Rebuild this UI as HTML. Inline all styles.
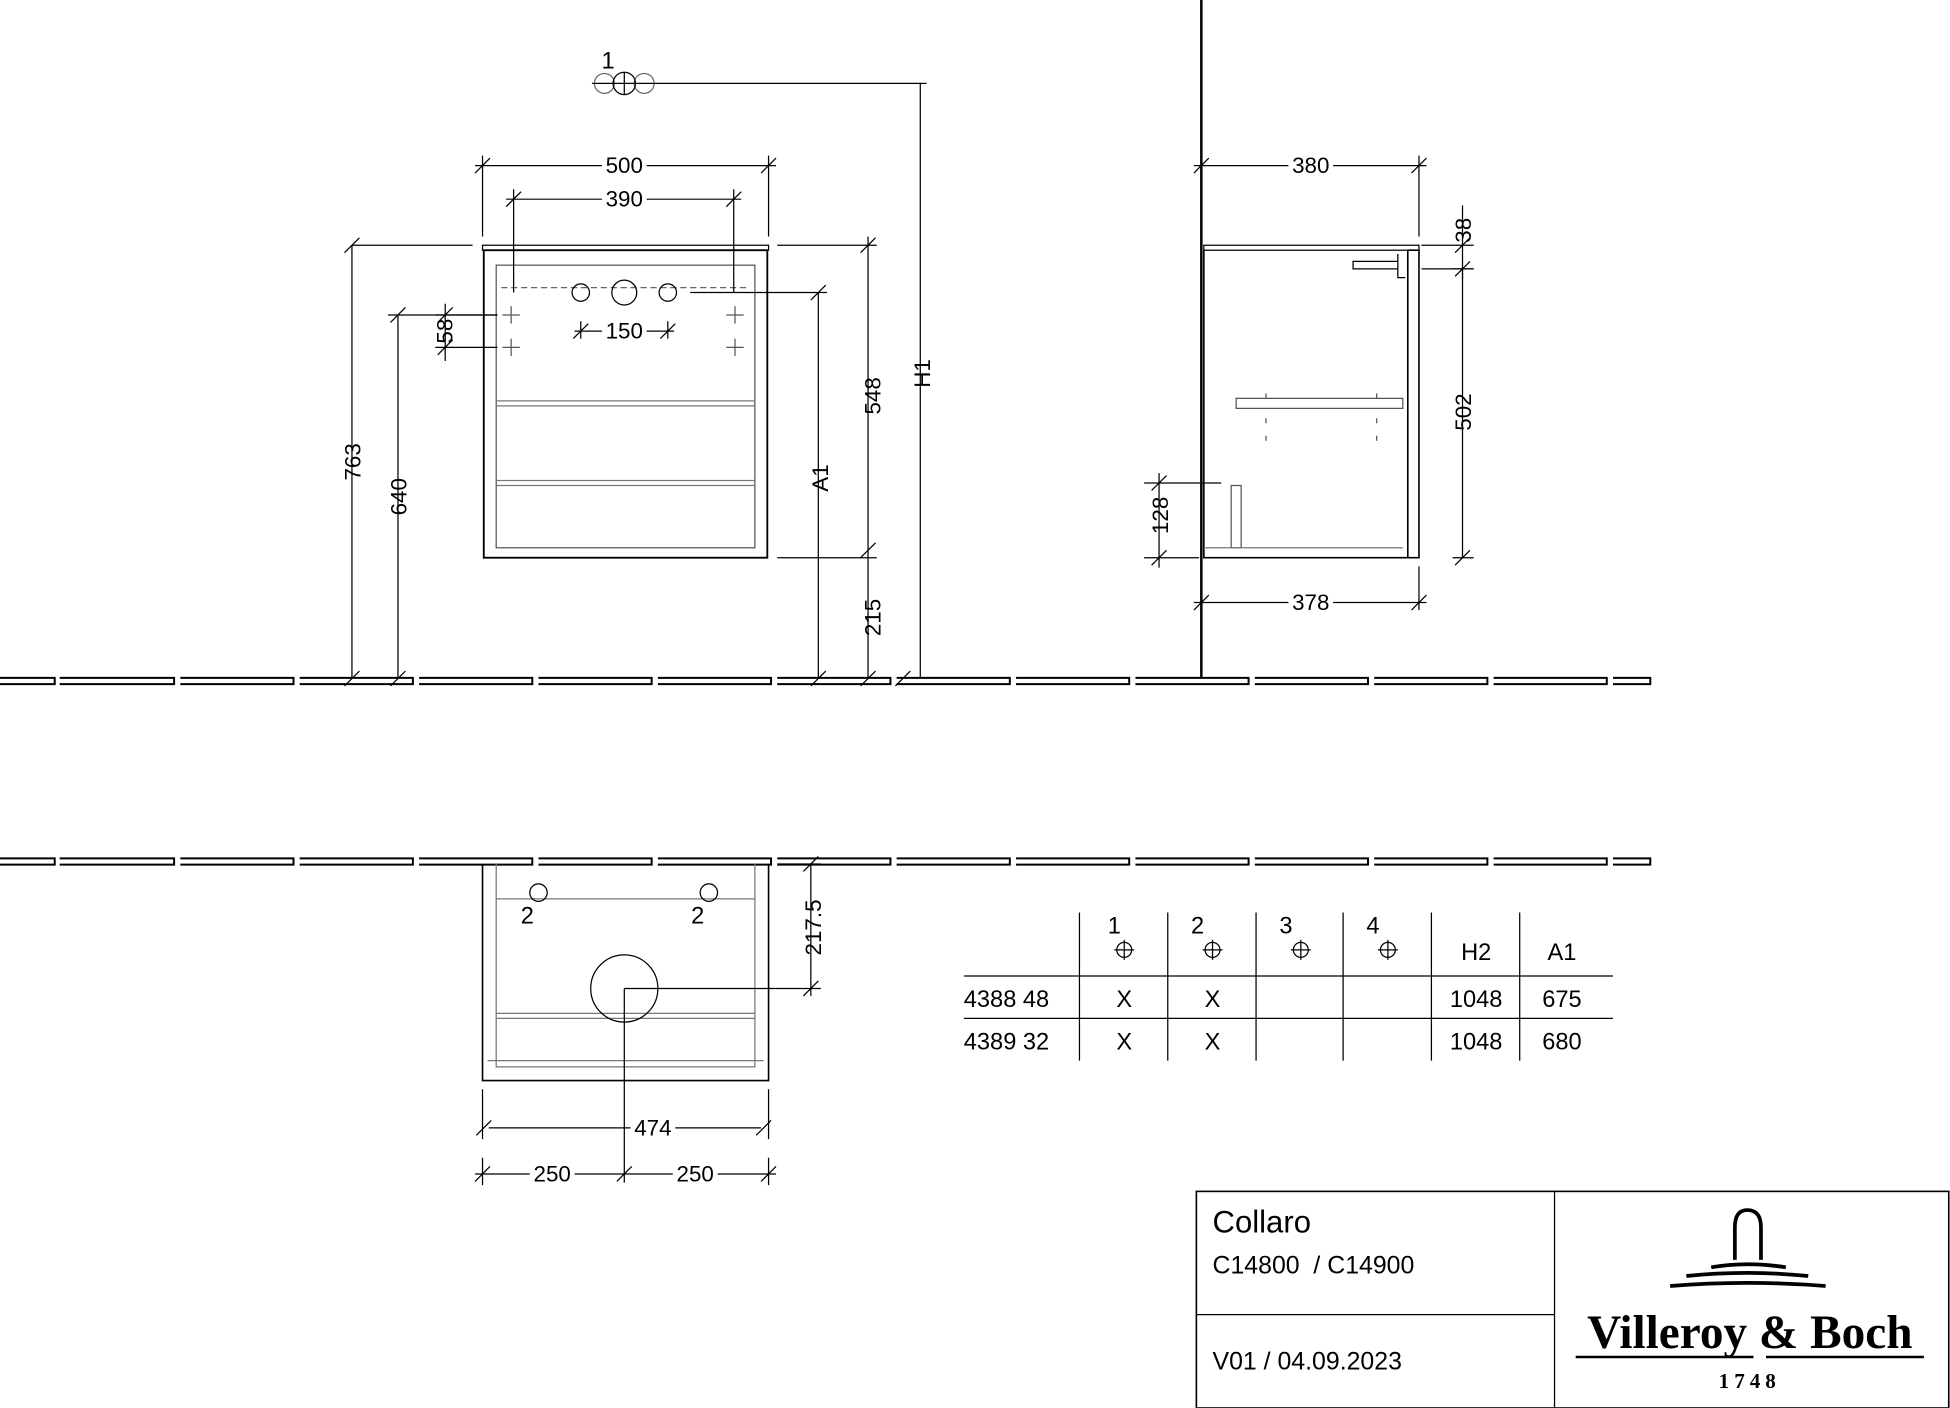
<!DOCTYPE html>
<html><head><meta charset="utf-8"><style>
html,body{margin:0;padding:0;background:#fff}
svg{display:block}
text{font-family:"Liberation Sans",sans-serif;fill:#000}
.d{font-family:"Liberation Sans Narrow","Liberation Sans",sans-serif;font-size:18px}
</style></head><body>
<svg width="1950" height="1408" viewBox="0 0 1568 1131" preserveAspectRatio="none" xmlns="http://www.w3.org/2000/svg">
<g fill="none" stroke="#000" stroke-width="1">
<g stroke-width="1.6">
<path d="M0 544.5H44V549.5H0 M48 544.5H140V549.5H48 M145 544.5H236V549.5H145 M241 544.5H332V549.5H241 M337 544.5H428V549.5H337 M433 544.5H524V549.5H433 M529 544.5H620V549.5H529 M625 544.5H716V549.5H625 M721 544.5H812V549.5H721 M817 544.5H908V549.5H817 M913 544.5H1004V549.5H913 M1009 544.5H1100V549.5H1009 M1105 544.5H1196V549.5H1105 M1201 544.5H1292V549.5H1201 M1297 544.5H1327V549.5H1297"/>
<path d="M0 689.5H44V694.5H0 M48 689.5H140V694.5H48 M145 689.5H236V694.5H145 M241 689.5H332V694.5H241 M337 689.5H428V694.5H337 M433 689.5H524V694.5H433 M529 689.5H620V694.5H529 M625 689.5H716V694.5H625 M721 689.5H812V694.5H721 M817 689.5H908V694.5H817 M913 689.5H1004V694.5H913 M1009 689.5H1100V694.5H1009 M1105 689.5H1196V694.5H1105 M1201 689.5H1292V694.5H1201 M1297 689.5H1327V694.5H1297"/>
</g>
<path d="M966 0V545" stroke-width="2"/>
<rect x="388" y="197" width="230" height="4"/>
<rect x="389" y="201" width="228" height="247" stroke-width="1.5"/>
<rect x="399" y="213" width="208" height="227" stroke="#555"/>
<path d="M399 322H607M399 326H607M399 386H607M399 390H607" stroke="#777"/>
<path d="M403 231H600" stroke-dasharray="5 3" stroke="#666"/>
<circle cx="467" cy="235" r="7"/><circle cx="502" cy="235" r="10"/><circle cx="537" cy="235" r="7"/>
<path d="M404 253h14M411 246v14M404 279h14M411 272v14M584 253h14M591 246v14M584 279h14M591 272v14" stroke="#555"/>
<circle cx="486" cy="67" r="8" stroke="#666"/><circle cx="518" cy="67" r="8" stroke="#666"/><circle cx="502" cy="67" r="9"/>
<path d="M476 67H510M502 58V76"/>
<path d="M510 67H745M740 67V545"/>
<path d="M388 125V190M618 125V190M382 133H624M382 139l12-12M612 139l12-12"/>
<path d="M413 152V235M590 152V235M407 160H596M407 166l12-12M584 166l12-12"/>
<path d="M467 258V272M537 258V272M462 266H542M461 272l12-12M531 272l12-12"/>
<path d="M283 197H380M283 197V545M277 203l12-12M277 551l12-12"/>
<path d="M312 253H400M320 253V545M314 259l12-12M314 551l12-12"/>
<path d="M350 253H400M350 279H400M358 244V290M352 259l12-12M352 285l12-12"/>
<path d="M625 197H705M698 190V545M692 203l12-12M692 448l12-12M692 551l12-12M625 448H705"/>
<path d="M555 235H665M658 235V545M652 241l12-12M652 551l12-12"/>
<path d="M720 551l12-12"/>
<rect x="968" y="197" width="173" height="4"/>
<path d="M968 201V448H1132V201M1132 201H1141V448H1132" stroke-width="1.3"/>
<path d="M1088 210H1124V216H1088Z M1124 204V223H1130" />
<path d="M994 320H1128V328H994Z M990 390H998V440H990Z" stroke="#555"/>
<path d="M1018 316v4M1018 336v4M1018 350v4M1107 316v4M1107 336v4M1107 350v4" stroke="#555"/>
<path d="M968 440H1128" stroke="#777"/>
<path d="M966 125V200M1141 125V190M960 133H1147M960 139l12-12M1135 139l12-12"/>
<path d="M1143 197H1185M1143 216H1185M1176 165V224M1170 203l12-12M1170 222l12-12"/>
<path d="M1168 216H1185M1168 448H1185M1176 216V448M1170 454l12-12"/>
<path d="M920 388H982M920 448H964M932 380V456M926 394l12-12M926 454l12-12"/>
<path d="M966 455V490M1141 455V490M960 484H1147M960 490l12-12M1135 490l12-12"/>
<path d="M388 694V868H618V694" stroke-width="1.3"/>
<path d="M399 694V857H607V694M399 722H607M399 814H607M399 818H607M392 852H614" stroke="#777"/>
<circle cx="433" cy="717" r="7"/><circle cx="570" cy="717" r="7"/>
<circle cx="502" cy="794" r="27"/>
<path d="M502 794H660M652 694V800M646 700l12-12M646 800l12-12M625 694H660"/>
<path d="M502 794V950"/>
<path d="M388 875V915M618 875V915M393 906H612M383 912l12-12M608 912l12-12"/>
<path d="M388 930V952M618 930V952M382 943H624M382 949l12-12M496 949l12-12M612 949l12-12"/>
<path d="M868 733V852M939 733V852M1010 733V852M1080 733V852M1151 733V852M1222 733V852M775 784H1297M775 818H1297"/>
<circle cx="904" cy="763" r="6"/><circle cx="975" cy="763" r="6"/><circle cx="1046" cy="763" r="6"/><circle cx="1116" cy="763" r="6"/>
<path d="M896 763h16M904 755v16M967 763h16M975 755v16M1038 763h16M1046 755v16M1108 763h16M1116 755v16"/>
<rect x="962" y="957" width="605" height="174" stroke-width="1.3"/>
<path d="M1250 957V1131M962 1056H1250"/>
<path d="M1395 1012V986Q1395 972 1405 972Q1416 972 1416 986V1012" stroke-width="3"/>
<path d="M1376 1018Q1405 1013 1436 1018M1356 1025Q1405 1020 1454 1025M1343 1033Q1405 1028 1468 1033" stroke-width="3"/>
<path d="M1267 1090H1410M1420 1090H1547" stroke-width="2"/>
</g>
<g class="d" text-anchor="middle">
<rect x="484" y="126" width="36" height="14" fill="#fff"/><text x="502" y="139">500</text>
<rect x="484" y="153" width="36" height="14" fill="#fff"/><text x="502" y="166">390</text>
<rect x="484" y="259" width="36" height="14" fill="#fff"/><text x="502" y="272">150</text>
<rect x="1036" y="126" width="36" height="14" fill="#fff"/><text x="1054" y="139">380</text>
<rect x="1036" y="477" width="36" height="14" fill="#fff"/><text x="1054" y="490">378</text>
<rect x="507" y="899" width="36" height="14" fill="#fff"/><text x="525" y="912">474</text>
<rect x="426" y="936" width="36" height="14" fill="#fff"/><text x="444" y="949">250</text>
<rect x="541" y="936" width="36" height="14" fill="#fff"/><text x="559" y="949">250</text>
<g transform="rotate(-90)">
<text x="-371" y="290">763</text><text x="-399" y="327">640</text><text x="-266" y="364">58</text>
<text x="-318" y="708">548</text><text x="-496" y="708">215</text><text x="-384" y="666">A1</text>
<text x="-300" y="748">H1</text><text x="-185" y="1183">38</text><text x="-331" y="1183">502</text>
<text x="-414" y="939">128</text><text x="-745" y="660">217.5</text>
</g>
</g>
<g font-size="19" text-anchor="middle">
<text x="489" y="55">1</text><text x="424" y="742">2</text><text x="561" y="742">2</text>
<text x="896" y="750">1</text><text x="963" y="750">2</text><text x="1034" y="750">3</text><text x="1104" y="750">4</text>
<text x="1187" y="771">H2</text><text x="1256" y="771">A1</text>
<text x="904" y="809">X</text><text x="975" y="809">X</text><text x="1187" y="809">1048</text><text x="1256" y="809">675</text>
<text x="904" y="843">X</text><text x="975" y="843">X</text><text x="1187" y="843">1048</text><text x="1256" y="843">680</text>
</g>
<g font-size="19"><text x="775" y="809">4388 48</text><text x="775" y="843">4389 32</text></g>
<text x="975" y="990" font-size="25">Collaro</text>
<text x="975" y="1023" font-size="20" xml:space="preserve" style="white-space:pre">C14800  / C14900</text>
<text x="975" y="1100" font-size="20">V01 / 04.09.2023</text>
<text x="1407" y="1083" font-size="38" text-anchor="middle" style="font-family:'Liberation Serif',serif;font-weight:bold">Villeroy &amp; Boch</text>
<text x="1407" y="1115" font-size="17" font-weight="bold" text-anchor="middle" letter-spacing="4" style="font-family:'Liberation Serif',serif">1748</text>
</svg>
</body></html>
